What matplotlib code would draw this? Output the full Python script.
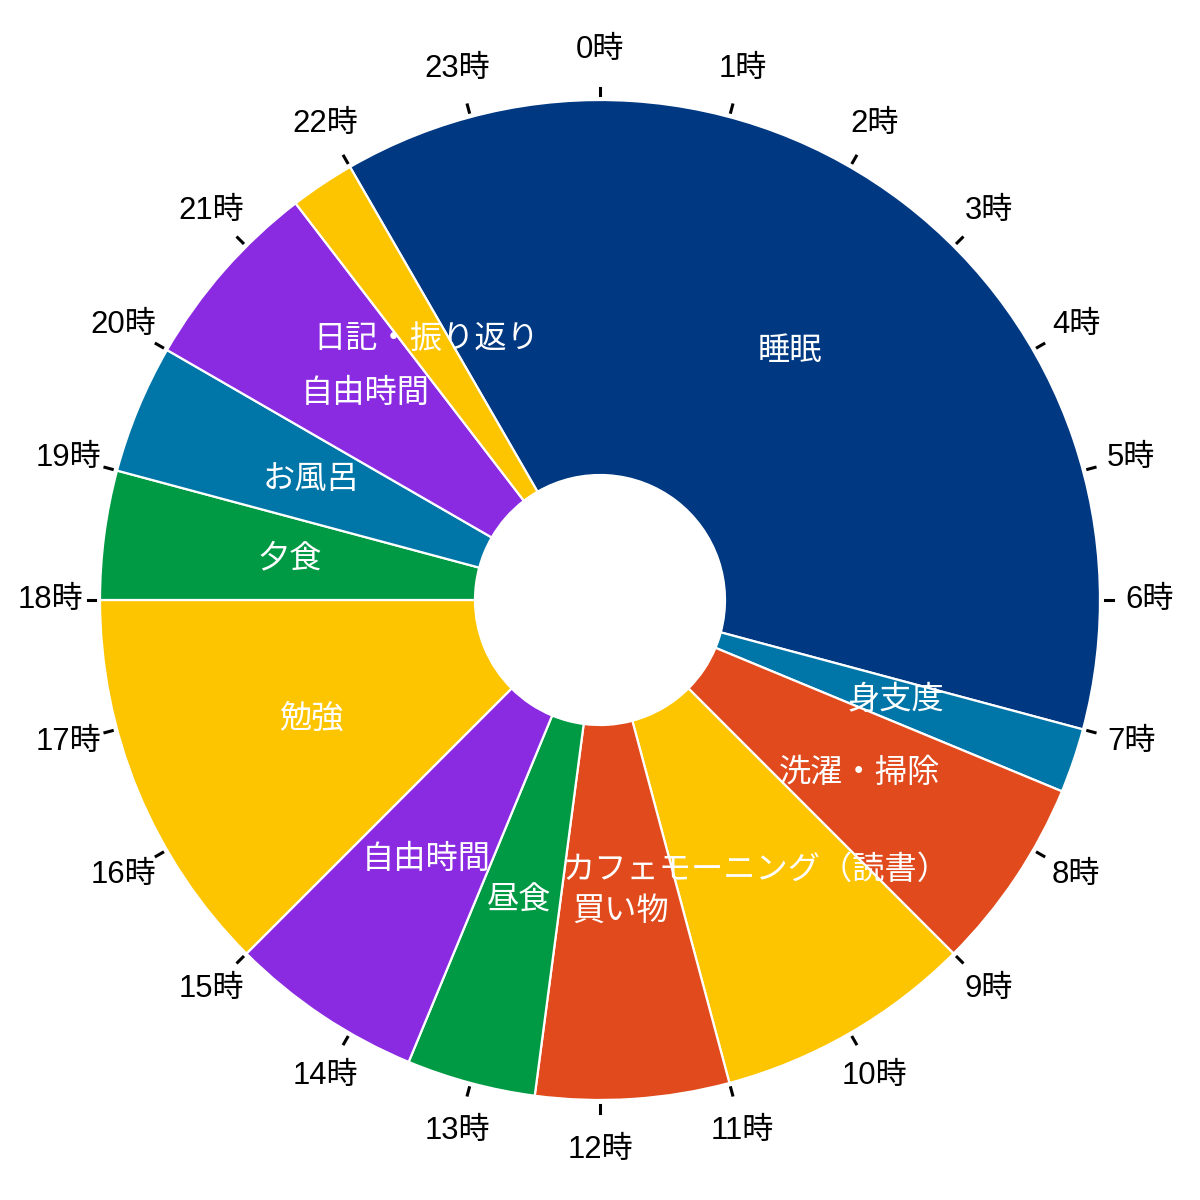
import numpy as np
import matplotlib.pyplot as plt

plt.rcParams['font.family'] = ['Liberation Sans', 'Noto Sans CJK JP', 'DejaVu Sans']

# 一日のスケジュール（22時から時計回り）
activities = ['睡眠', '身支度', '洗濯・掃除', 'カフェモーニング（読書）', '買い物', '昼食',
              '自由時間', '勉強', '夕食', 'お風呂', '自由時間', '日記・振り返り']
hours = [9, 0.5, 1.5, 2, 1.5, 1, 1.5, 3, 1, 1, 1.5, 0.5]
start_hour = 22
colors = ['#003882', '#0076A8', '#E04A1C', '#FDC500', '#E04A1C', '#009A44',
          '#8A2BE2', '#FDC500', '#009A44', '#0076A8', '#8A2BE2', '#FDC500']
hour_labels = [f'{h}時' for h in range(24)]

fig = plt.figure(figsize=(6, 6), dpi=200)
ax = fig.add_axes([0, 0, 1, 1])

wedges, _ = ax.pie(hours, colors=colors, startangle=90 - start_hour * 15,
                   counterclock=False, radius=1,
                   wedgeprops=dict(width=0.75, edgecolor='white', linewidth=0.8))

# 項目名
for w, name in zip(wedges, activities):
    ang = np.deg2rad((w.theta1 + w.theta2) / 2)
    r = 0.625
    ax.text(r * np.cos(ang), r * np.sin(ang), name, color='white', fontsize=11.6,
            ha='center', va='center')

# 時刻の目盛り
for h, lab in enumerate(hour_labels):
    ang = np.deg2rad(90 - h * 15)
    ax.plot([1.01 * np.cos(ang), 1.025 * np.cos(ang)],
            [1.01 * np.sin(ang), 1.025 * np.sin(ang)], color='black', lw=1.1)
    ax.text(1.1 * np.cos(ang), 1.1 * np.sin(ang), lab, fontsize=11.2,
            ha='center', va='center')

ax.set_xlim(-1.2, 1.2)
ax.set_ylim(-1.2, 1.2)
ax.set_aspect('equal')
ax.axis('off')

fig.savefig('out.png', dpi=200)
